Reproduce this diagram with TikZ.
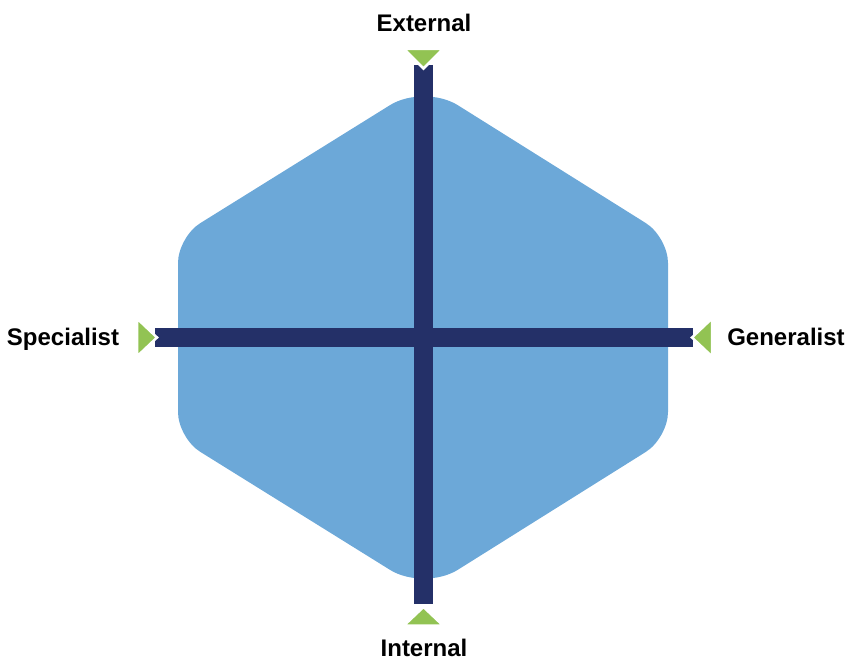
\documentclass[tikz,border=0pt]{standalone}
\usepackage{fontspec}
\setmainfont{Liberation Sans}
\usepackage{tikz}
\usetikzlibrary{calc}
\definecolor{hexBlue}  {RGB}{108,168,216}
\definecolor{axisNavy} {RGB}{36, 48, 104}
\definecolor{tipGreen} {RGB}{146,195,83}

\tikzset{
  axisbar/.style={draw=axisNavy,line width=19pt,line cap=butt},
  tiphead/.style={fill=tipGreen,draw=white,line width=2.5pt,line join=miter},
  lbl/.style={font=\fontsize{24}{28}\selectfont\bfseries,anchor=base,inner sep=0pt}
}

\begin{document}
\begin{tikzpicture}[x=1pt,y=-1pt]
        \useasboundingbox (0,0) rectangle (848,660);
        % hexagon behind the axes
        \fill[hexBlue] (178,337.5) [rounded corners=26pt] -- (178,237) [rounded corners=40pt] -- (424,84)
          [rounded corners=26pt] -- (668,237) -- (668,438) [rounded corners=40pt] -- (424,591)
          [rounded corners=26pt] -- (178,438) -- cycle;
        % axis ends
        \coordinate (ext)  at (423.5,65);
        \coordinate (int)  at (423.5,604);
        \coordinate (spec) at (155,337.5);
        \coordinate (gen)  at (693,337.5);
        \draw[axisbar] (ext) -- (int);
        \draw[axisbar] (spec) -- (gen);
        \draw[tiphead] (ext)  ++(-19.5,-16) -- ++(39,0) -- ++(-19.5,19.5) -- cycle;
        \draw[tiphead] (int)  ++(0,3) -- ++(19.5,18.5) -- ++(-39,0) -- cycle;
        \draw[tiphead] (spec) ++(2,0) -- ++(-20,-19) -- ++(0,38) -- cycle;
        \draw[tiphead] (gen)  ++(-1,0) -- ++(20,-19) -- ++(0,38) -- cycle;
        % labels
        \node[lbl] (extlabel)  at (424,32)  {External};
        \node[lbl] (intlabel)  at (424,656) {Internal};
        \node[lbl] (speclabel) at (63,345)  {Specialist};
        \node[lbl] (genlabel)  at (786,345) {Generalist};
      \end{tikzpicture}
\end{document}
